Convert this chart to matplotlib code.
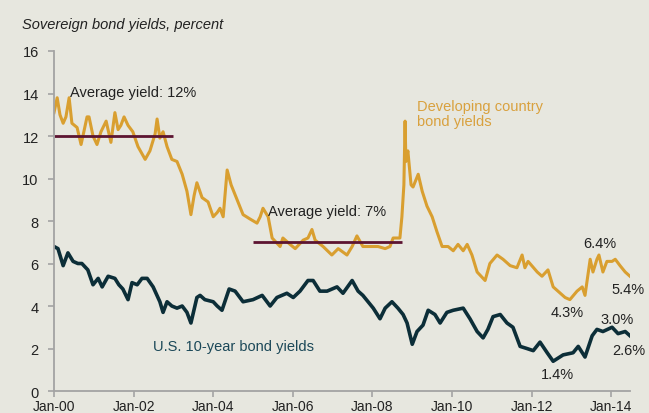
import matplotlib.pyplot as plt

plt.rcParams['font.family'] = ['Liberation Sans', 'DejaVu Sans']

# developing country sovereign bond yields (decimal year, percent)
dev_years = [2000.00, 2000.08, 2000.15, 2000.23, 2000.30, 2000.38, 2000.45, 2000.58, 2000.68, 2000.75,
             2000.83, 2000.88, 2000.98, 2001.08, 2001.18, 2001.31, 2001.43, 2001.53, 2001.61, 2001.68,
             2001.76, 2001.86, 2001.98, 2002.11, 2002.29, 2002.41, 2002.54, 2002.59, 2002.66, 2002.74,
             2002.84, 2002.96, 2003.09, 2003.22, 2003.34, 2003.44, 2003.52, 2003.59, 2003.72, 2003.87,
             2004.00, 2004.10, 2004.17, 2004.25, 2004.35, 2004.45, 2004.60, 2004.75, 2004.92, 2005.10,
             2005.18, 2005.25, 2005.38, 2005.48, 2005.68, 2005.75, 2005.93, 2006.06, 2006.26, 2006.38,
             2006.48, 2006.56, 2006.76, 2006.98, 2007.14, 2007.36, 2007.49, 2007.61, 2007.76, 2007.94,
             2008.14, 2008.32, 2008.44, 2008.52, 2008.69, 2008.74, 2008.79, 2008.82, 2008.84, 2008.89,
             2008.97, 2009.02, 2009.15, 2009.25, 2009.37, 2009.50, 2009.62, 2009.75, 2009.90, 2010.03,
             2010.15, 2010.28, 2010.38, 2010.50, 2010.63, 2010.83, 2010.95, 2011.13, 2011.28, 2011.46,
             2011.63, 2011.76, 2011.83, 2011.91, 2012.14, 2012.26, 2012.41, 2012.54, 2012.66, 2012.84,
             2012.96, 2013.14, 2013.27, 2013.34, 2013.47, 2013.54, 2013.64, 2013.69, 2013.79, 2013.89,
             2014.02, 2014.10, 2014.22, 2014.35, 2014.47]
dev_yield = [13.1, 13.8, 13.0, 12.6, 12.9, 13.8, 12.6, 12.4, 11.6, 12.2,
             12.9, 12.9, 12.0, 11.6, 12.2, 12.7, 11.7, 13.1, 12.3, 12.5,
             12.9, 12.5, 12.2, 11.5, 10.9, 11.3, 12.1, 12.8, 11.9, 12.2,
             11.5, 10.9, 10.8, 10.2, 9.4, 8.3, 9.2, 9.8, 9.1, 8.9,
             8.2, 8.4, 8.6, 8.2, 10.4, 9.7, 9.0, 8.3, 8.1, 7.9,
             8.2, 8.6, 8.2, 7.2, 6.8, 7.2, 6.9, 6.7, 7.1, 7.2,
             7.6, 7.1, 6.8, 6.4, 6.7, 6.4, 6.8, 7.3, 6.8, 6.8,
             6.8, 6.7, 6.8, 7.2, 7.2, 8.2, 9.7, 12.7, 10.8, 11.3,
             9.7, 9.6, 10.2, 9.4, 8.7, 8.2, 7.5, 6.8, 6.8, 6.6,
             6.9, 6.6, 6.9, 6.4, 5.6, 5.2, 6.0, 6.4, 6.2, 5.9,
             5.8, 6.4, 5.8, 6.1, 5.6, 5.4, 5.7, 4.9, 4.7, 4.4,
             4.3, 4.7, 4.9, 4.5, 6.2, 5.6, 6.2, 6.4, 5.6, 6.1,
             6.1, 6.2, 5.9, 5.6, 5.4]

# U.S. 10-year treasury yields (decimal year, percent)
us_years = [2000.00, 2000.10, 2000.23, 2000.35, 2000.48, 2000.60, 2000.70, 2000.85, 2000.98, 2001.11,
            2001.21, 2001.36, 2001.53, 2001.63, 2001.73, 2001.86, 2001.96, 2002.09, 2002.21, 2002.34,
            2002.49, 2002.66, 2002.74, 2002.84, 2002.96, 2003.09, 2003.22, 2003.34, 2003.44, 2003.59,
            2003.67, 2003.79, 2004.00, 2004.10, 2004.22, 2004.40, 2004.55, 2004.75, 2005.00, 2005.23,
            2005.43, 2005.60, 2005.85, 2006.01, 2006.18, 2006.38, 2006.51, 2006.68, 2006.86, 2007.11,
            2007.26, 2007.49, 2007.64, 2007.76, 2007.89, 2008.02, 2008.19, 2008.32, 2008.49, 2008.64,
            2008.77, 2008.87, 2009.00, 2009.12, 2009.27, 2009.40, 2009.57, 2009.70, 2009.87, 2010.03,
            2010.28, 2010.45, 2010.63, 2010.78, 2010.90, 2011.03, 2011.21, 2011.38, 2011.53, 2011.71,
            2011.88, 2012.04, 2012.21, 2012.39, 2012.54, 2012.79, 2013.04, 2013.17, 2013.34, 2013.52,
            2013.64, 2013.79, 2014.02, 2014.17, 2014.35, 2014.47]
us_yield = [6.8, 6.7, 5.9, 6.5, 6.1, 6.0, 6.0, 5.7, 5.0, 5.3,
            4.9, 5.4, 5.3, 5.0, 4.8, 4.3, 5.1, 5.0, 5.3, 5.3,
            4.9, 4.2, 3.7, 4.2, 4.0, 3.9, 4.0, 3.7, 3.2, 4.4,
            4.5, 4.3, 4.2, 4.0, 3.8, 4.8, 4.7, 4.2, 4.3, 4.5,
            4.0, 4.4, 4.6, 4.4, 4.7, 5.2, 5.2, 4.7, 4.7, 4.9,
            4.6, 5.2, 4.7, 4.5, 4.2, 3.9, 3.4, 3.9, 4.2, 3.9,
            3.6, 3.2, 2.2, 2.8, 3.1, 3.8, 3.6, 3.2, 3.7, 3.8,
            3.9, 3.4, 2.8, 2.5, 2.9, 3.5, 3.6, 3.2, 3.0, 2.1,
            2.0, 1.9, 2.3, 1.8, 1.4, 1.7, 1.8, 2.1, 1.6, 2.6,
            2.9, 2.8, 3.0, 2.7, 2.8, 2.6]

# period averages for developing country yields
avg_periods = [(2000.0, 2003.0), (2005.0, 2008.75)]
avg_values = [12, 7]

tick_years = [2000, 2002, 2004, 2006, 2008, 2010, 2012, 2014]
tick_labels = ['Jan-00', 'Jan-02', 'Jan-04', 'Jan-06', 'Jan-08', 'Jan-10', 'Jan-12', 'Jan-14']

bg = '#e7e7df'
gold = '#d99f30'
teal = '#0c2e38'
maroon = '#5c1431'
axis_grey = '#a3a3a3'

fig = plt.figure(figsize=(6.49, 4.14), dpi=100, facecolor=bg)
ax = fig.add_axes([0.0832, 0.0531, 0.8875, 0.8213], facecolor=bg)

ax.plot(dev_years, dev_yield, color=gold, lw=2.2, solid_joinstyle='round')
ax.plot(us_years, us_yield, color=teal, lw=2.6, solid_joinstyle='round')
for (x0, x1), v in zip(avg_periods, avg_values):
    ax.plot([x0, x1], [v, v], color=maroon, lw=2.0, solid_capstyle='butt')

ax.set_xlim(2000, 2014.47)
ax.set_ylim(0, 16)
ax.set_yticks(range(0, 17, 2))
ax.set_xticks(tick_years)
ax.set_xticklabels(tick_labels)

for side in ['top', 'right']:
    ax.spines[side].set_visible(False)
for side in ['left', 'bottom']:
    ax.spines[side].set_color(axis_grey)
    ax.spines[side].set_linewidth(1.3)
ax.tick_params(axis='y', direction='out', length=4, width=1.2, color=axis_grey,
               pad=7, labelsize=10.5, labelcolor='#222222')
ax.tick_params(axis='x', direction='out', length=4, width=1.2, color=axis_grey,
               pad=1.5, labelsize=10, labelcolor='#222222')

# annotations
txt = dict(fontsize=10.5, color='#222222')
ax.text(2000.40, 14.07, 'Average yield: 12%', ha='left', va='center', **txt)
ax.text(2005.38, 8.47, 'Average yield: 7%', ha='left', va='center', **txt)
ax.text(2009.12, 13.06, 'Developing country\nbond yields', ha='left', va='center',
        fontsize=10.5, color='#d9a13e', linespacing=1.05)
ax.text(2002.49, 2.12, 'U.S. 10-year bond yields', ha='left', va='center',
        fontsize=10.5, color='#1b4858')
ax.text(2013.72, 6.96, '6.4%', ha='center', va='center', **txt)
ax.text(2014.42, 4.80, '5.4%', ha='center', va='center', **txt)
ax.text(2012.89, 3.72, '4.3%', ha='center', va='center', **txt)
ax.text(2014.15, 3.39, '3.0%', ha='center', va='center', **txt)
ax.text(2014.45, 1.93, '2.6%', ha='center', va='center', clip_on=False, **txt)
ax.text(2012.64, 0.80, '1.4%', ha='center', va='center', **txt)

fig.text(22 / 649, 1 - 25.5 / 414, 'Sovereign bond yields, percent', style='italic',
         fontsize=10.5, color='#222222', ha='left', va='center')

fig.savefig('out.png', dpi=100, facecolor=bg)
